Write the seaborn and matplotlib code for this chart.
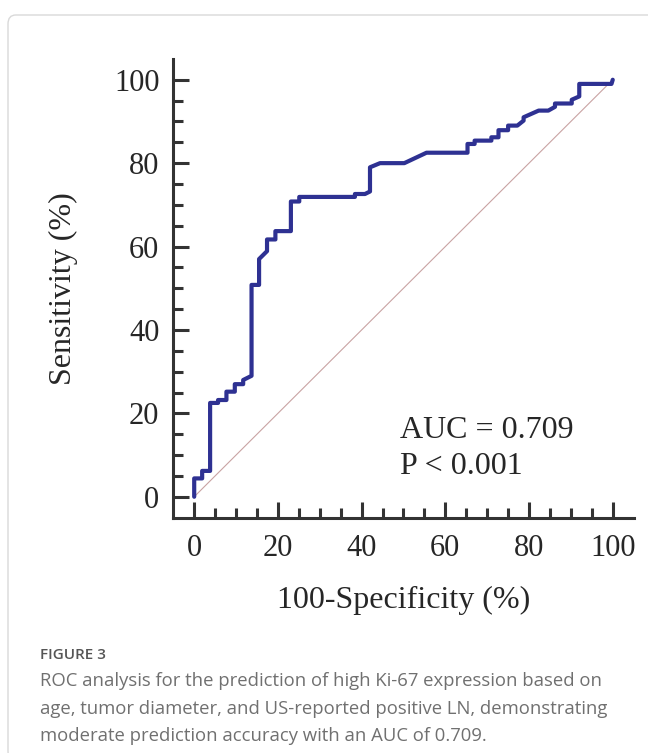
import numpy as np
import pandas as pd
import matplotlib
matplotlib.use("Agg")
import matplotlib.pyplot as plt
import seaborn as sns
from matplotlib.ticker import FixedLocator
from matplotlib.patches import FancyBboxPatch

# ROC curve vertices (100-Specificity %, Sensitivity %)
fpr = [0, 0, 1.9, 1.9, 3.8, 3.8, 5.7, 5.7, 7.7, 7.7, 9.7, 9.7, 11.7, 11.7, 13.7,
       13.7, 15.5, 15.5, 17.4, 17.4, 19.4, 19.4, 23.1, 23.1, 25.1, 25.1, 38.4,
       38.4, 40.8, 42.0, 42.0, 44.4, 50.2, 55.5, 65.3, 65.3, 67.0, 67.0, 71.0,
       71.0, 72.7, 72.7, 75.0, 75.0, 77.2, 78.7, 78.7, 82.3, 84.6, 86.2, 86.2,
       90.2, 90.2, 92.0, 92.0, 99.7, 100]
tpr = [0, 4.4, 4.4, 6.2, 6.2, 22.5, 22.5, 23.2, 23.2, 25.2, 25.2, 27.0, 27.0,
       28.0, 29.0, 50.8, 50.8, 57.0, 58.9, 61.7, 61.7, 63.7, 63.7, 70.8, 70.8,
       71.9, 71.9, 72.6, 72.6, 73.2, 79.0, 80.0, 80.0, 82.5, 82.5, 84.6, 84.6,
       85.4, 85.4, 86.2, 86.2, 87.9, 87.9, 89.0, 89.0, 90.2, 91.0, 92.6, 92.6,
       93.5, 94.3, 94.3, 95.2, 96.0, 99.0, 99.0, 100]
chance = [0, 100]

x_ticks = [0, 20, 40, 60, 80, 100]
y_ticks = [0, 20, 40, 60, 80, 100]
minor_ticks = [5, 10, 15, 25, 30, 35, 45, 50, 55, 65, 70, 75, 85, 90, 95]

auc_text = "AUC = 0.709\nP < 0.001"
fig_label = "FIGURE 3"
caption = ("ROC analysis for the prediction of high Ki-67 expression based on\n"
           "age, tumor diameter, and US-reported positive LN, demonstrating\n"
           "moderate prediction accuracy with an AUC of 0.709.")

roc = pd.DataFrame({"fpr": fpr, "tpr": tpr})

sns.set_style("ticks")
plt.rcParams["font.family"] = ["Liberation Serif", "DejaVu Serif"]

fig = plt.figure(figsize=(6.48, 7.53), dpi=100)
ax = fig.add_axes([0.2674, 0.3126, 0.7105, 0.6092])

# outer light frame
frame = FancyBboxPatch((8 / 648, 1 - 760 / 753), 660 / 648, 745 / 753,
                       boxstyle="round,pad=0,rounding_size=0.012",
                       transform=fig.transFigure, fill=False,
                       edgecolor="#d9d9d9", linewidth=1.0, clip_on=False)
fig.patches.append(frame)

ax.plot(chance, chance, color="#c9a3a3", linewidth=0.8)
sns.lineplot(data=roc, x="fpr", y="tpr", sort=False, estimator=None,
             color="#2e3192", linewidth=3.0, ax=ax)

ax.set_xlim(-5, 105)
ax.set_ylim(-5, 105)
ax.xaxis.set_major_locator(FixedLocator(x_ticks))
ax.yaxis.set_major_locator(FixedLocator(y_ticks))
ax.xaxis.set_minor_locator(FixedLocator(minor_ticks))
ax.yaxis.set_minor_locator(FixedLocator(minor_ticks))

for side in ["top", "right"]:
    ax.spines[side].set_visible(False)
for side in ["left", "bottom"]:
    ax.spines[side].set_linewidth(2.2)
    ax.spines[side].set_color("#333333")

ax.tick_params(which="major", direction="in", length=11.5, width=2.2,
               color="#333333", labelsize=22, pad=10)
ax.tick_params(which="minor", direction="in", length=7, width=2.2,
               color="#333333")
ax.tick_params(axis="x", which="major", pad=12)

ax.set_xlabel("100-Specificity (%)", fontsize=23, labelpad=16)
ax.set_ylabel("Sensitivity (%)", fontsize=23, labelpad=26)

ax.text(49.2, 11.6, auc_text, fontsize=23, va="center", ha="left",
        linespacing=1.35)

fig.text(40 / 648, 1 - 655 / 753, fig_label, fontsize=11, color="#555555",
         family=["Open Sans", "DejaVu Sans"], weight="semibold", va="center")
fig.text(40 / 648, 1 - 672 / 753, caption, fontsize=13.3, color="#707070",
         family=["Open Sans", "DejaVu Sans"], va="top", linespacing=1.68)

fig.savefig("out.png", dpi=100)
